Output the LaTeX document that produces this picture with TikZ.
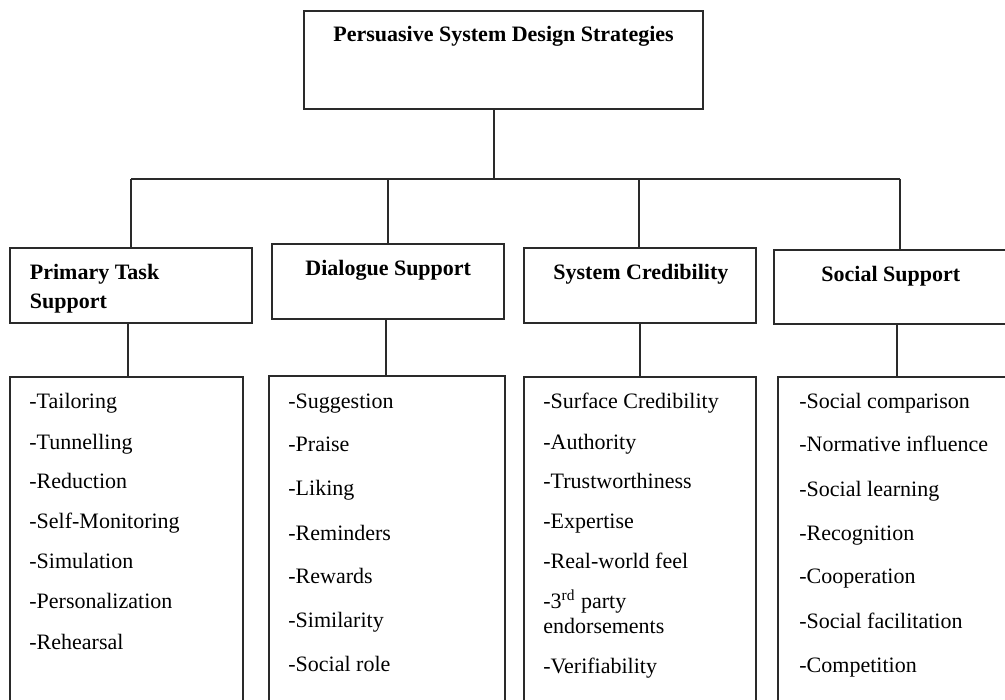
\documentclass[tikz,border=0pt]{standalone}
\usepackage{fontspec}
\setmainfont{Liberation Serif}
\usetikzlibrary{fit}
\definecolor{linegray}{HTML}{2A2A2A}
\tikzset{
  box/.style={draw=linegray, line width=0.65pt, inner sep=0pt, fill=white},
  link/.style={draw=linegray, line width=0.6pt},
  head/.style={font=\fontsize{11}{13}\selectfont\bfseries, inner sep=0pt, anchor=base west},
  item/.style={font=\fontsize{11}{13}\selectfont, inner sep=0pt, anchor=base west},
}
% rectangle from its two corners, in pixel units
\newcommand{\panel}[5]{%
  \coordinate (#1-nw) at (#2,#3);
  \coordinate (#1-se) at (#4,#5);
  \node[box, fit=(#1-nw)(#1-se)] (#1) {};
}
\begin{document}
\begin{tikzpicture}[x=0.5pt, y=-0.5pt]
\useasboundingbox (0,0) rectangle (1005,700);
\clip (0,0) rectangle (1005,700);
\fill[white] (0,0) rectangle (1005,700);

% root
\panel{root}{304}{11}{703}{109}
\node[head] (roott) at (333,42) {Persuasive System Design Strategies};

% categories
\panel{pts}{10}{248}{252}{323}
\panel{dls}{272}{244}{504}{319}
\panel{scr}{524}{248}{756}{323}
\panel{sos}{774}{250}{1030}{324}
\node[head] (ptst1) at (29.5,279) {Primary Task};
\node[head] (ptst2) at (29.5,308) {Support};
\node[head] (dlst) at (305,275) {Dialogue Support};
\node[head] (scrt) at (553,279) {System Credibility};
\node[head] (sost) at (821,281) {Social Support};

% strategy lists
\panel{ptsl}{10}{377}{243}{730}
\panel{dlsl}{269}{376}{505}{730}
\panel{scrl}{524}{377}{756}{730}
\panel{sosl}{778}{377}{1030}{730}

\node[item] (a1) at (29,408) {-Tailoring};
\node[item] (a2) at (29,449) {-Tunnelling};
\node[item] (a3) at (29,488) {-Reduction};
\node[item] (a4) at (29,528) {-Self-Monitoring};
\node[item] (a5) at (29,568) {-Simulation};
\node[item] (a6) at (29,608) {-Personalization};
\node[item] (a7) at (29,649) {-Rehearsal};

\node[item] (b1) at (288,408) {-Suggestion};
\node[item] (b2) at (288,451) {-Praise};
\node[item] (b3) at (288,495) {-Liking};
\node[item] (b4) at (288,540) {-Reminders};
\node[item] (b5) at (288,583) {-Rewards};
\node[item] (b6) at (288,627) {-Similarity};
\node[item] (b7) at (288,671) {-Social role};

\node[item] (c1) at (543,408) {-Surface Credibility};
\node[item] (c2) at (543,449) {-Authority};
\node[item] (c3) at (543,488) {-Trustworthiness};
\node[item] (c4) at (543,528) {-Expertise};
\node[item] (c5) at (543,568) {-Real-world feel};
\node[item] (c6) at (543,608) {-3\textsuperscript{rd} party};
\node[item] (c6b) at (543,633) {endorsements};
\node[item] (c7) at (543,673) {-Verifiability};

\node[item] (d1) at (799,408) {-Social comparison};
\node[item] (d2) at (799,451) {-Normative influence};
\node[item] (d3) at (799,496) {-Social learning};
\node[item] (d4) at (799,540) {-Recognition};
\node[item] (d5) at (799,583) {-Cooperation};
\node[item] (d6) at (799,628) {-Social facilitation};
\node[item] (d7) at (799,672) {-Competition};

% tree connectors
\coordinate (trunk) at (494,179);
\coordinate (bus1) at (131,179);
\coordinate (bus2) at (388,179);
\coordinate (bus3) at (639,179);
\coordinate (bus4) at (900,179);
\draw[link] (root.south -| trunk) -- (trunk);
\draw[link] (bus1) -- (bus4);
\draw[link] (bus1) -- (bus1 |- pts.north);
\draw[link] (bus2) -- (bus2 |- dls.north);
\draw[link] (bus3) -- (bus3 |- scr.north);
\draw[link] (bus4) -- (bus4 |- sos.north);

\coordinate (drop1) at (128,0);
\coordinate (drop2) at (386,0);
\coordinate (drop3) at (640,0);
\coordinate (drop4) at (897,0);
\draw[link] (pts.south -| drop1) -- (ptsl.north -| drop1);
\draw[link] (dls.south -| drop2) -- (dlsl.north -| drop2);
\draw[link] (scr.south -| drop3) -- (scrl.north -| drop3);
\draw[link] (sos.south -| drop4) -- (sosl.north -| drop4);
\end{tikzpicture}
\end{document}
